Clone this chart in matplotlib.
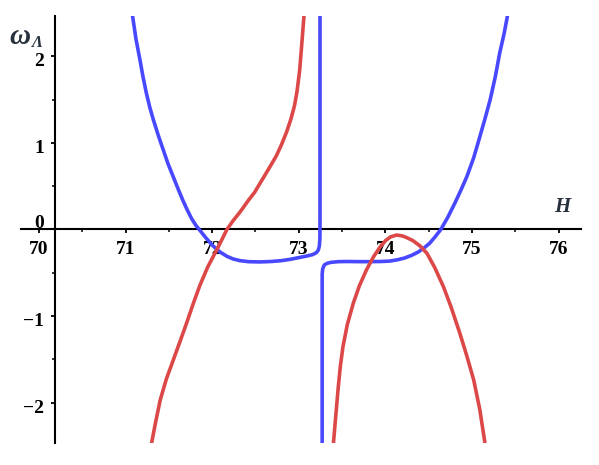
import matplotlib
matplotlib.use("Agg")
import matplotlib.pyplot as plt
import matplotlib.transforms as mtransforms
from matplotlib.ticker import MultipleLocator

# ---- data ----
blue1_H = [71.08, 71.12, 71.166, 71.20, 71.24, 71.28, 71.32, 71.38, 71.435, 71.49,
           71.55, 71.61, 71.66, 71.71, 71.76, 71.81, 71.85, 71.93, 72.01, 72.09,
           72.17, 72.24, 72.32, 72.42, 72.55, 72.68, 72.80, 72.90, 73.00, 73.10,
           73.16, 73.20, 73.225, 73.238, 73.244, 73.245, 73.245]
blue1_w = [2.47, 2.20, 1.96, 1.77, 1.575, 1.41, 1.27, 1.08, 0.92, 0.76,
           0.61, 0.46, 0.34, 0.23, 0.13, 0.05, 0.0, -0.10, -0.19, -0.26,
           -0.31, -0.34, -0.36, -0.372, -0.375, -0.37, -0.36, -0.345, -0.325, -0.305,
           -0.29, -0.27, -0.24, -0.19, -0.10, 0.1, 2.47]

blue2_H = [73.27, 73.27, 73.275, 73.285, 73.30, 73.33, 73.37, 73.45, 73.55, 73.75,
           73.95, 74.05, 74.14, 74.22, 74.30, 74.38, 74.45, 74.51, 74.57, 74.64,
           74.72, 74.80, 74.87, 74.94, 75.02, 75.09, 75.15, 75.21, 75.27, 75.32,
           75.37, 75.41]
blue2_w = [-2.47, -0.52, -0.46, -0.43, -0.405, -0.39, -0.38, -0.372, -0.37, -0.372,
           -0.37, -0.365, -0.35, -0.33, -0.30, -0.26, -0.21, -0.16, -0.09, 0.0,
           0.14, 0.30, 0.45, 0.61, 0.83, 1.07, 1.28, 1.50, 1.77, 2.04,
           2.26, 2.47]

red1_H = [71.30, 71.35, 71.40, 71.47, 71.55, 71.63, 71.705, 71.78, 71.86, 71.95,
          72.05, 72.11, 72.17, 72.24, 72.32, 72.42, 72.49, 72.55, 72.61, 72.67,
          72.74, 72.80, 72.86, 72.91, 72.95, 72.98, 73.01, 73.035, 73.06]
red1_w = [-2.47, -2.21, -1.97, -1.73, -1.51, -1.29, -1.08, -0.86, -0.64, -0.43,
          -0.24, -0.12, 0.0, 0.10, 0.20, 0.34, 0.43, 0.53, 0.63, 0.73,
          0.85, 0.98, 1.13, 1.28, 1.43, 1.60, 1.84, 2.15, 2.47]

red2_H = [73.40, 73.43, 73.456, 73.48, 73.51, 73.56, 73.63, 73.70, 73.78, 73.86,
          73.94, 74.00, 74.06, 74.13, 74.20, 74.26, 74.32, 74.40, 74.48, 74.57,
          74.67, 74.76, 74.86, 74.94, 75.02, 75.09, 75.15]
red2_w = [-2.47, -2.12, -1.82, -1.58, -1.355, -1.10, -0.85, -0.65, -0.47, -0.32,
          -0.20, -0.13, -0.085, -0.064, -0.075, -0.10, -0.13, -0.19, -0.275, -0.44,
          -0.66, -0.90, -1.2, -1.46, -1.74, -2.08, -2.47]

x_ticks = [70, 71, 72, 73, 74, 75, 76]
y_ticks = [-2, -1, 0, 1, 2]

BLUE = "#4848FF"
RED = "#DC4848"
LABEL = "#27313d"

W, Hh = 599, 465
fig = plt.figure(figsize=(W / 100, Hh / 100), dpi=100)
ax = fig.add_axes([21 / W, 1 - 443 / Hh, (581 - 21) / W, (443 - 16) / Hh])

kw = dict(lw=2.6, solid_joinstyle="round", solid_capstyle="butt")
ax.plot(blue1_H, blue1_w, color=BLUE, zorder=3, **kw)
ax.plot(blue2_H, blue2_w, color=BLUE, zorder=3, **kw)
ax.plot(red1_H, red1_w, color=RED, zorder=4, **kw)
ax.plot(red2_H, red2_w, color=RED, zorder=4, **kw)

ax.set_xlim(69.792, 76.259)
ax.set_ylim(-2.468, 2.468)

for s in ["top", "right"]:
    ax.spines[s].set_visible(False)
ax.spines["left"].set_position(("data", 70.19))
ax.spines["bottom"].set_position(("data", 0))
ax.spines["left"].set_linewidth(1.5)
ax.spines["bottom"].set_linewidth(1.5)

ax.set_xticks(x_ticks)
ax.set_yticks(y_ticks)
ax.xaxis.set_minor_locator(MultipleLocator(0.5))
ax.yaxis.set_minor_locator(MultipleLocator(0.5))
ax.tick_params(which="major", direction="out", length=3, width=1.3, pad=5.0)
ax.tick_params(which="minor", direction="out", length=2, width=1.1)

font = dict(family="Liberation Serif", weight="bold", size=14)
ax.set_xticklabels([str(v) for v in x_ticks], fontdict=font)
ax.set_yticklabels([("\u2212" + str(-v)) if v < 0 else str(v) for v in y_ticks], fontdict=font)

for lab, v in zip(ax.get_yticklabels(), y_ticks):
    dy = 0.08 if v == 0 else -0.035
    lab.set_transform(lab.get_transform() + mtransforms.ScaledTranslation(0, dy, fig.dpi_scale_trans))

fig.text(20 / W, 1 - 36 / Hh, "\u03c9", family="Liberation Serif", weight="bold",
         style="italic", size=21, color=LABEL, ha="center", va="center")
fig.text(38 / W, 1 - 43 / Hh, "\u039b", family="Liberation Serif", weight="bold",
         style="italic", size=12, color=LABEL, ha="center", va="center")
fig.text(562.5 / W, 1 - 207 / Hh, "H", family="Liberation Serif", weight="bold",
         style="italic", size=15, color=LABEL, ha="center", va="center")

fig.savefig("out.png", dpi=100)
